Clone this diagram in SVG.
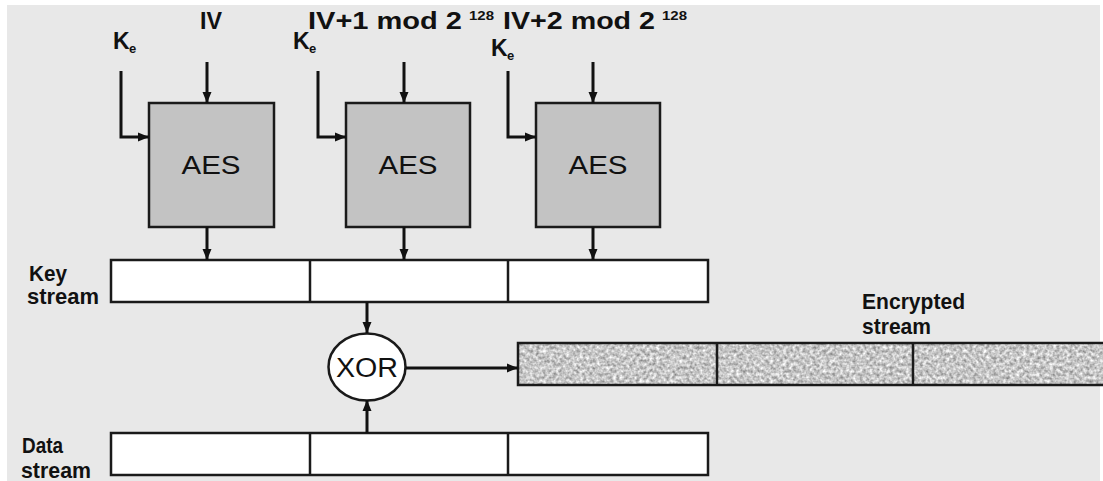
<svg xmlns="http://www.w3.org/2000/svg" width="1103" height="481" viewBox="0 0 1103 481">
<style>
.lbl{font-family:"Liberation Sans",Arial,sans-serif;font-weight:bold;font-size:22px;fill:#111}
.top{font-family:"Liberation Sans",Arial,sans-serif;font-weight:bold;font-size:23px;fill:#111}
.sup{font-family:"Liberation Sans",Arial,sans-serif;font-weight:bold;font-size:12px;fill:#111}
.sub{font-family:"Liberation Sans",Arial,sans-serif;font-weight:bold;font-size:13px;fill:#111}
.big{font-family:"Liberation Sans",Arial,sans-serif;font-size:25px;fill:#111}
.aes{fill:#c3c3c3;stroke:#1a1a1a;stroke-width:2.5}
.cell{fill:#ffffff;stroke:#1a1a1a;stroke-width:2.5}
.enc{stroke:#1a1a1a;stroke-width:2.5;fill:none}
.arr{stroke:#111;stroke-width:3;fill:none;marker-end:url(#ah)}
</style>
<defs>
<marker id="ah" markerUnits="userSpaceOnUse" markerWidth="12" markerHeight="12" refX="11" refY="6" orient="auto">
<path d="M0,1.5 L11,6 L0,10.5 z" fill="#111"/>
</marker>
<filter id="noise" x="0" y="0" width="100%" height="100%" color-interpolation-filters="sRGB">
<feTurbulence type="fractalNoise" baseFrequency="0.3" numOctaves="2" seed="7"/>
<feColorMatrix type="matrix" values="0.7 0 0 0 0.43  0.7 0 0 0 0.43  0.7 0 0 0 0.43  0 0 0 0 1"/>
</filter>
</defs>
<rect x="0" y="0" width="1103" height="481" fill="#ffffff"/>
<rect x="7" y="5" width="1093" height="476" fill="#e8e8e8"/>

<g id="labels-top">
<text class="top" x="200" y="29" textLength="22" lengthAdjust="spacingAndGlyphs">IV</text>
<text class="top" x="308" y="29" textLength="154" lengthAdjust="spacingAndGlyphs">IV+1 mod 2</text>
<text class="sup" x="469" y="20" textLength="25" lengthAdjust="spacingAndGlyphs">128</text>
<text class="top" x="503" y="29" textLength="152" lengthAdjust="spacingAndGlyphs">IV+2 mod 2</text>
<text class="sup" x="662" y="20" textLength="25" lengthAdjust="spacingAndGlyphs">128</text>
</g>

<g id="ke1"><text class="top" x="113" y="49">K</text><text class="sub" x="129" y="53">e</text></g>
<g id="ke2"><text class="top" x="293" y="49">K</text><text class="sub" x="309" y="53">e</text></g>
<g id="ke3"><text class="top" x="491" y="56">K</text><text class="sub" x="507" y="60">e</text></g>

<g id="aes1"><rect class="aes" x="149" y="103" width="125" height="124"/><text class="big" x="211" y="174" text-anchor="middle" textLength="59" lengthAdjust="spacingAndGlyphs">AES</text></g>
<g id="aes2"><rect class="aes" x="346" y="103" width="124" height="124"/><text class="big" x="408" y="174" text-anchor="middle" textLength="59" lengthAdjust="spacingAndGlyphs">AES</text></g>
<g id="aes3"><rect class="aes" x="536" y="103" width="124" height="124"/><text class="big" x="598" y="174" text-anchor="middle" textLength="59" lengthAdjust="spacingAndGlyphs">AES</text></g>

<g id="keystream">
<rect class="cell" x="111" y="260" width="597" height="42"/>
<line class="enc" x1="310" y1="260" x2="310" y2="302"/>
<line class="enc" x1="508" y1="260" x2="508" y2="302"/>
<text class="lbl" x="29" y="281" textLength="38" lengthAdjust="spacingAndGlyphs">Key</text>
<text class="lbl" x="27" y="304" textLength="72" lengthAdjust="spacingAndGlyphs">stream</text>
</g>

<g id="datastream">
<rect class="cell" x="111" y="433" width="597" height="42"/>
<line class="enc" x1="310" y1="433" x2="310" y2="475"/>
<line class="enc" x1="508" y1="433" x2="508" y2="475"/>
<text class="lbl" x="22" y="453" textLength="41" lengthAdjust="spacingAndGlyphs">Data</text>
<text class="lbl" x="21" y="478" textLength="70" lengthAdjust="spacingAndGlyphs">stream</text>
</g>

<g id="xor">
<ellipse cx="367" cy="367" rx="38.5" ry="33.5" fill="#ffffff" stroke="#1a1a1a" stroke-width="2.5"/>
<text class="big" x="367" y="377" text-anchor="middle" textLength="62" lengthAdjust="spacingAndGlyphs" style="font-size:27px">XOR</text>
</g>

<g id="encrypted">
<rect x="518" y="343" width="590" height="42" fill="#cccccc" filter="url(#noise)"/>
<rect class="enc" x="518" y="343" width="590" height="42"/>
<line class="enc" x1="717" y1="343" x2="717" y2="385"/>
<line class="enc" x1="913" y1="343" x2="913" y2="385"/>
<text class="lbl" x="862" y="309" textLength="103" lengthAdjust="spacingAndGlyphs">Encrypted</text>
<text class="lbl" x="862" y="334" textLength="69" lengthAdjust="spacingAndGlyphs">stream</text>
</g>

<g id="connectors">
<line class="arr" x1="207" y1="62" x2="207" y2="103"/>
<line class="arr" x1="404" y1="62" x2="404" y2="103"/>
<line class="arr" x1="593" y1="62" x2="593" y2="103"/>
<path class="arr" d="M121,71 L121,137 L149,137"/>
<path class="arr" d="M318,71 L318,137 L346,137"/>
<path class="arr" d="M508,71 L508,137 L536,137"/>
<line class="arr" x1="207" y1="227" x2="207" y2="260"/>
<line class="arr" x1="404" y1="227" x2="404" y2="260"/>
<line class="arr" x1="593" y1="227" x2="593" y2="260"/>
<line class="arr" x1="367" y1="302" x2="367" y2="333"/>
<line class="arr" x1="367" y1="433" x2="367" y2="400"/>
<line class="arr" x1="406" y1="368" x2="518" y2="368"/>
</g>
</svg>
